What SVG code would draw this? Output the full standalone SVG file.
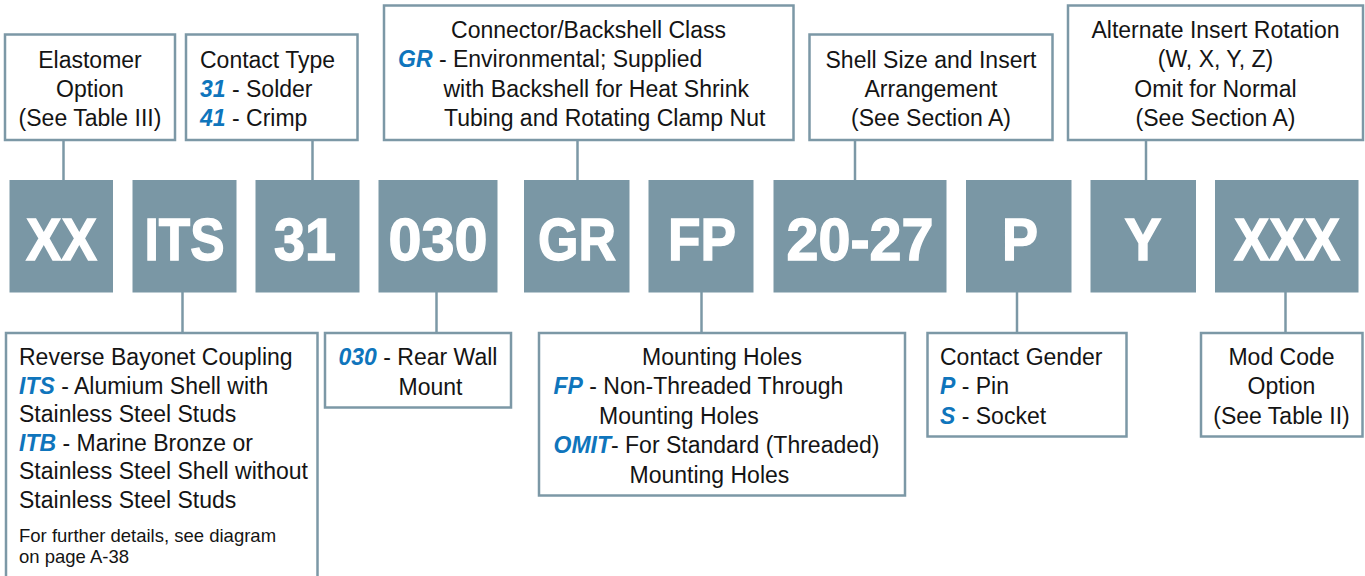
<svg xmlns="http://www.w3.org/2000/svg" width="1365" height="576" viewBox="0 0 1365 576">
<style>
.box{fill:#fff;stroke:#7C98A6;stroke-width:2.5}
.code{fill:#7A97A5}
.lbl{font-family:"Liberation Sans",Arial,sans-serif;font-weight:bold;font-size:60px;fill:#fff;stroke:#fff;stroke-width:1.4;text-anchor:middle}
.t{font-family:"Liberation Sans",Arial,sans-serif;font-size:23px;fill:#141414}
.c{text-anchor:middle}
.b{font-weight:bold;font-style:italic;fill:#0F75BC}
.s{font-size:18.5px}
.conn line{stroke:#7C98A6;stroke-width:2.5}
</style>
<rect width="1365" height="576" fill="#fff"/>
<g class="conn" id="connectors">
<line x1="63.5" y1="140" x2="63.5" y2="180"/>
<line x1="312.5" y1="140" x2="312.5" y2="180"/>
<line x1="577.5" y1="140" x2="577.5" y2="180"/>
<line x1="855" y1="140" x2="855" y2="180"/>
<line x1="1146" y1="140" x2="1146" y2="180"/>
<line x1="182.5" y1="292" x2="182.5" y2="333"/>
<line x1="436.5" y1="292" x2="436.5" y2="333"/>
<line x1="701.5" y1="292" x2="701.5" y2="333"/>
<line x1="1017" y1="292" x2="1017" y2="333"/>
<line x1="1285.5" y1="292" x2="1285.5" y2="333"/>
</g>
<g id="code-xx"><rect class="code" x="9.5" y="180" width="103.5" height="112.5"/><text class="lbl" x="61.5" y="260" textLength="71" lengthAdjust="spacingAndGlyphs">XX</text></g>
<g id="code-its"><rect class="code" x="132.5" y="180" width="104" height="112.5"/><text class="lbl" x="184.5" y="260" textLength="80" lengthAdjust="spacingAndGlyphs">ITS</text></g>
<g id="code-31"><rect class="code" x="255.5" y="180" width="104" height="112.5"/><text class="lbl" x="305" y="260" textLength="62" lengthAdjust="spacingAndGlyphs">31</text></g>
<g id="code-030"><rect class="code" x="378.5" y="180" width="119" height="112.5"/><text class="lbl" x="438" y="260" textLength="99" lengthAdjust="spacingAndGlyphs">030</text></g>
<g id="code-gr"><rect class="code" x="524" y="180" width="105.5" height="112.5"/><text class="lbl" x="577" y="260" textLength="78" lengthAdjust="spacingAndGlyphs">GR</text></g>
<g id="code-fp"><rect class="code" x="648.5" y="180" width="105" height="112.5"/><text class="lbl" x="702" y="260" textLength="68" lengthAdjust="spacingAndGlyphs">FP</text></g>
<g id="code-2027"><rect class="code" x="773.5" y="180" width="173" height="112.5"/><text class="lbl" x="860" y="260" textLength="147" lengthAdjust="spacingAndGlyphs">20-27</text></g>
<g id="code-p"><rect class="code" x="966" y="180" width="105.5" height="112.5"/><text class="lbl" x="1020" y="260" textLength="36" lengthAdjust="spacingAndGlyphs">P</text></g>
<g id="code-y"><rect class="code" x="1090.5" y="180" width="105.5" height="112.5"/><text class="lbl" x="1143" y="260" textLength="37" lengthAdjust="spacingAndGlyphs">Y</text></g>
<g id="code-xxx"><rect class="code" x="1215" y="180" width="143.5" height="112.5"/><text class="lbl" x="1287" y="260" textLength="106" lengthAdjust="spacingAndGlyphs">XXX</text></g>
<g id="elastomer">
<rect class="box" x="5" y="34.5" width="170" height="105.5"/>
<text class="t c" x="90" y="68">Elastomer</text>
<text class="t c" x="90" y="97">Option</text>
<text class="t c" x="90" y="126">(See Table III)</text>
</g>
<g id="contact-type">
<rect class="box" x="186" y="34.5" width="171.5" height="105.5"/>
<text class="t" x="200" y="68">Contact Type</text>
<text class="t" x="200" y="97"><tspan class="b">31</tspan> - Solder</text>
<text class="t" x="200" y="126"><tspan class="b">41</tspan> - Crimp</text>
</g>
<g id="backshell-class">
<rect class="box" x="384" y="5.5" width="409.5" height="134.5"/>
<text class="t c" x="588.5" y="38">Connector/Backshell Class</text>
<text class="t" x="398" y="67"><tspan class="b">GR</tspan> - Environmental; Supplied</text>
<text class="t" x="443.5" y="96.5">with Backshell for Heat Shrink</text>
<text class="t" x="444" y="126">Tubing and Rotating Clamp Nut</text>
</g>
<g id="shell-size">
<rect class="box" x="809.5" y="34.5" width="243" height="105.5"/>
<text class="t c" x="931" y="68">Shell Size and Insert</text>
<text class="t c" x="931" y="97">Arrangement</text>
<text class="t c" x="931" y="126">(See Section A)</text>
</g>
<g id="insert-rotation">
<rect class="box" x="1068" y="5.5" width="295" height="134.5"/>
<text class="t c" x="1215.5" y="38">Alternate Insert Rotation</text>
<text class="t c" x="1215.5" y="67">(W, X, Y, Z)</text>
<text class="t c" x="1215.5" y="96.5">Omit for Normal</text>
<text class="t c" x="1215.5" y="126">(See Section A)</text>
</g>
<g id="coupling">
<rect class="box" x="6" y="333" width="311.5" height="260"/>
<text class="t" x="19" y="365">Reverse Bayonet Coupling</text>
<text class="t" x="19" y="393.5"><tspan class="b">ITS</tspan> - Alumium Shell with</text>
<text class="t" x="19" y="422">Stainless Steel Studs</text>
<text class="t" x="19" y="450.5"><tspan class="b">ITB</tspan> - Marine Bronze or</text>
<text class="t" x="19" y="479">Stainless Steel Shell without</text>
<text class="t" x="19" y="507.5">Stainless Steel Studs</text>
<text class="t s" x="19" y="541.5">For further details, see diagram</text>
<text class="t s" x="19" y="562.5">on page A-38</text>
</g>
<g id="rear-wall">
<rect class="box" x="325" y="333" width="186" height="74.5"/>
<text class="t" x="338.5" y="365"><tspan class="b">030</tspan> - Rear Wall</text>
<text class="t" x="398.5" y="395">Mount</text>
</g>
<g id="mounting-holes">
<rect class="box" x="539" y="333" width="366" height="162.5"/>
<text class="t c" x="722" y="365">Mounting Holes</text>
<text class="t" x="553.5" y="394"><tspan class="b">FP</tspan> - Non-Threaded Through</text>
<text class="t" x="599" y="423.5">Mounting Holes</text>
<text class="t" x="553.5" y="453"><tspan class="b">OMIT</tspan>- For Standard (Threaded)</text>
<text class="t" x="629.5" y="482.5">Mounting Holes</text>
</g>
<g id="contact-gender">
<rect class="box" x="927.5" y="333" width="199" height="103.5"/>
<text class="t" x="940" y="365">Contact Gender</text>
<text class="t" x="940" y="394"><tspan class="b">P</tspan> - Pin</text>
<text class="t" x="940" y="423.5"><tspan class="b">S</tspan> - Socket</text>
</g>
<g id="mod-code">
<rect class="box" x="1201" y="333" width="161.5" height="103.5"/>
<text class="t c" x="1281.5" y="365">Mod Code</text>
<text class="t c" x="1281.5" y="394">Option</text>
<text class="t c" x="1281.5" y="423.5">(See Table II)</text>
</g>
</svg>
